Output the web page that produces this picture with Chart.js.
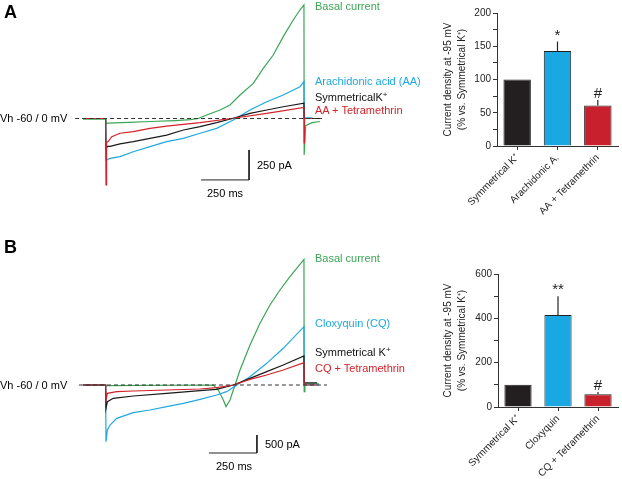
<!DOCTYPE html>
<html>
<head>
<meta charset="utf-8">
<script src="https://cdn.jsdelivr.net/npm/chart.js@4.4.1/dist/chart.umd.min.js"></script>
<style>
  body { margin: 0; background: #fff; }
  #wrap { position: relative; width: 622px; height: 479px; overflow: hidden; }
  canvas { position: absolute; }
  .t { position: absolute; font: 11px 'Liberation Sans', Arial, sans-serif; white-space: nowrap; line-height: 1; transform: translateY(-50%); }
  .t sup { font-size: 8px; vertical-align: 4px; line-height: 0; }
  .panel { font-weight: bold; font-size: 18px; }
</style>
</head>
<body>
<div id="wrap">
  <canvas id="traceA" width="340" height="200" style="left:0px;top:0px"></canvas>
  <canvas id="traceB" width="340" height="249" style="left:0px;top:230px"></canvas>
  <canvas id="barA" width="192" height="230" style="left:430px;top:0px"></canvas>
  <canvas id="barB" width="192" height="239" style="left:430px;top:240px"></canvas>

  <div class="t panel" style="left:4px;top:12px">A</div>
  <div class="t panel" style="left:4px;top:247px">B</div>

  <div class="t" style="left:0;top:118px">Vh -60 / 0 mV</div>
  <div class="t" style="left:315px;top:6px;color:#3aa655">Basal current</div>
  <div class="t" style="left:315px;top:81px;color:#1fa8e0">Arachidonic acid (AA)</div>
  <div class="t" style="left:315px;top:97px;color:#111">SymmetricalK<sup>+</sup></div>
  <div class="t" style="left:315px;top:110px;color:#d2232a">AA + Tetramethrin</div>
  <div class="t" style="left:257px;top:165px">250 pA</div>
  <div class="t" style="left:207px;top:193px">250 ms</div>

  <div class="t" style="left:0;top:385px">Vh -60 / 0 mV</div>
  <div class="t" style="left:315px;top:258px;color:#3aa655">Basal current</div>
  <div class="t" style="left:315px;top:323px;color:#1fa8e0">Cloxyquin (CQ)</div>
  <div class="t" style="left:315px;top:352px;color:#111">Symmetrical K<sup>+</sup></div>
  <div class="t" style="left:315px;top:368px;color:#d2232a">CQ + Tetramethrin</div>
  <div class="t" style="left:265px;top:444px">500 pA</div>
  <div class="t" style="left:216px;top:466px">250 ms</div>
</div>
<script>
// traces: [time ms, current pA], t = 0 at start of ramp
const basalA = [[-120,-5],[-2,-5],[0,-45],[10,-38],[120,-32],[230,-25],[360,-17],[440,-10],[480,0],[524,29],[594,71],[646,113],[698,196],[767,293],[819,418],[871,529],[923,682],[975,821],[1010,904],[1031,946],[1032,-304],[1040,-60],[1073,-35],[1115,-25]]
const aaA = [[-120,0],[-2,0],[0,-346],[10,-340],[21,-332],[73,-318],[142,-277],[229,-235],[316,-193],[403,-165],[490,-123],[576,-82],[663,-12],[750,71],[837,140],[923,196],[1010,265],[1031,307],[1032,5],[1075,5]]
const symA = [[-120,0],[-2,0],[0,-250],[8,-232],[21,-232],[73,-212],[142,-193],[229,-165],[316,-138],[403,-96],[490,-68],[576,-35],[663,2],[750,43],[837,71],[923,98],[1031,127],[1032,0],[1115,0]]
const aaTetraA = [[-120,0],[-2,0],[0,-554],[3,-200],[12,-190],[30,-152],[73,-123],[142,-110],[229,-82],[316,-63],[490,-35],[663,2],[837,43],[1031,93],[1032,-204],[1034,0],[1073,0]]
const baseA = [[-161,0],[1125,0]]
const scaleBarA = [[745,-262],[745,-512],[495,-512]]

const basalB = [[-120,0],[-2,0],[0,-28],[10,-15],[559,0],[585,-139],[611,-417],[625,-600],[646,-417],[663,-139],[672,0],[698,417],[750,1111],[802,1713],[854,2222],[906,2639],[958,3009],[1031,3491],[1032,-185],[1036,40],[1110,30]]
const cqB = [[-120,0],[-2,0],[0,-1574],[7,-1250],[21,-1111],[56,-926],[142,-769],[229,-694],[316,-602],[403,-509],[490,-398],[576,-278],[628,-185],[681,0],[750,231],[837,602],[923,1019],[1031,1620],[1032,0],[1110,0]]
const symB = [[-120,0],[-2,0],[0,-648],[7,-463],[38,-370],[142,-306],[316,-231],[490,-157],[576,-120],[663,0],[750,185],[837,370],[923,556],[1031,806],[1032,60],[1100,60]]
const cqTetraB = [[-120,0],[-2,0],[0,-417],[7,-231],[56,-185],[142,-167],[316,-139],[490,-111],[576,-74],[663,0],[750,157],[837,278],[923,417],[1031,620],[1032,0],[1100,0]]
const baseB = [[-141,0],[1151,0]]
const scaleBarB = [[786,-1389],[786,-1889],[536,-1889]]

// bar charts
const catsA = ['Symmetrical K⁺', 'Arachidonic A.', 'AA + Tetramethrin']
const meanA = [100, 143, 61]
const errA = [0, 14, 8]
const sigA = ['', '*', '#']

const catsB = ['Symmetrical K⁺', 'Cloxyquin', 'CQ + Tetramethrin']
const meanB = [100, 415, 58]
const errB = [0, 85, 10]
const sigB = ['', '**', '#']

const GREEN = '#3aa655', BLUE = '#1fa8e0', BLACK = '#1a1a1a', RED = '#d2232a'
Chart.defaults.font.family = "'Liberation Sans', Arial, sans-serif"
Chart.defaults.color = '#222'

const xy = pts => pts.map(([x, y]) => ({ x, y }))
const line = (pts, color, extra) => Object.assign({
  data: xy(pts), borderColor: color, borderWidth: 1.2, pointRadius: 0, tension: 0, fill: false
}, extra)

function traceChart(id, sets, xr, yr) {
  new Chart(document.getElementById(id), {
    type: 'line',
    data: { datasets: sets },
    options: {
      responsive: false,
      animation: false,
      events: [],
      layout: { padding: 0 },
      plugins: { legend: { display: false }, tooltip: { enabled: false } },
      scales: {
        x: { type: 'linear', display: false, min: xr[0], max: xr[1] },
        y: { type: 'linear', display: false, min: yr[0], max: yr[1] }
      }
    }
  })
}

traceChart('traceA', [
  line(baseA, '#333', { borderDash: [4, 3], order: 0 }),
  line(aaTetraA, RED, { order: 1 }),
  line(symA, BLACK, { order: 2 }),
  line(aaA, BLUE, { order: 3 }),
  line(basalA, GREEN, { order: 4 }),
  line(scaleBarA, '#222', { borderWidth: 1, order: 0 })
], [-552.1, 1218.7], [-679.2, 987.5])

traceChart('traceB', [
  line(baseB, '#333', { borderDash: [4, 3], order: 0 }),
  line(cqTetraB, RED, { order: 1 }),
  line(symB, BLACK, { order: 2 }),
  line(cqB, BLUE, { order: 3 }),
  line(basalB, GREEN, { order: 4 }),
  line(scaleBarB, '#222', { borderWidth: 1, order: 0 })
], [-552.1, 1218.7], [-2611.1, 4305.6])

function errPlugin(means, errs, sigs) {
  return {
    id: 'errbars',
    afterDatasetsDraw(chart) {
      const ctx = chart.ctx
      const ys = chart.scales.y
      chart.getDatasetMeta(0).data.forEach((bar, i) => {
        const top = ys.getPixelForValue(means[i] + errs[i])
        ctx.save()
        if (errs[i] > 0) {
          ctx.strokeStyle = '#222'
          ctx.lineWidth = 1.2
          ctx.beginPath()
          ctx.moveTo(bar.x, ys.getPixelForValue(means[i]))
          ctx.lineTo(bar.x, top)
          ctx.stroke()
        }
        if (sigs[i]) {
          ctx.fillStyle = '#222'
          ctx.font = "15px 'Liberation Sans', Arial, sans-serif"
          ctx.textAlign = 'center'
          ctx.textBaseline = 'alphabetic'
          ctx.fillText(sigs[i], bar.x, top - 2)
        }
        ctx.restore()
      })
    }
  }
}

function barChart(id, cats, means, errs, sigs, yMax, step, labelStep, axisW, padTop, axisH) {
  new Chart(document.getElementById(id), {
    type: 'bar',
    data: {
      labels: cats,
      datasets: [{
        data: means,
        backgroundColor: ['#231f20', '#1aa8e2', '#c8202c'],
        borderColor: '#222',
        borderWidth: 1,
        barPercentage: 0.68,
        categoryPercentage: 1
      }]
    },
    options: {
      responsive: false,
      animation: false,
      events: [],
      layout: { padding: { top: padTop, right: 4, left: 0, bottom: 0 } },
      plugins: { legend: { display: false }, tooltip: { enabled: false } },
      scales: {
        x: {
          grid: { offset: false, drawOnChartArea: false, tickLength: 4, color: '#333' },
          border: { color: '#333', width: 1 },
          ticks: { minRotation: 45, maxRotation: 45, font: { size: 10 }, padding: 2 },
          afterFit(s) { s.height = axisH }
        },
        y: {
          min: 0, max: yMax,
          grid: { drawOnChartArea: false, tickLength: 4, color: '#333' },
          border: { color: '#333', width: 1 },
          ticks: { stepSize: step, font: { size: 10 }, padding: 2,
            callback: v => v % labelStep === 0 ? v : '' },
          title: {
            display: true,
            text: ['Current density at -95 mV', '(% vs. Symmetrical K⁺)'],
            font: { size: 10, lineHeight: 1.4 },
            padding: { top: 11, bottom: 0 }
          },
          afterFit(s) { s.width = axisW }
        }
      }
    },
    plugins: [errPlugin(means, errs, sigs)]
  })
}

barChart('barA', catsA, meanA, errA, sigA, 200, 25, 50, 67, 13, 84)
barChart('barB', catsB, meanB, errB, sigB, 600, 100, 200, 68, 34, 72)
</script>
</body>
</html>
